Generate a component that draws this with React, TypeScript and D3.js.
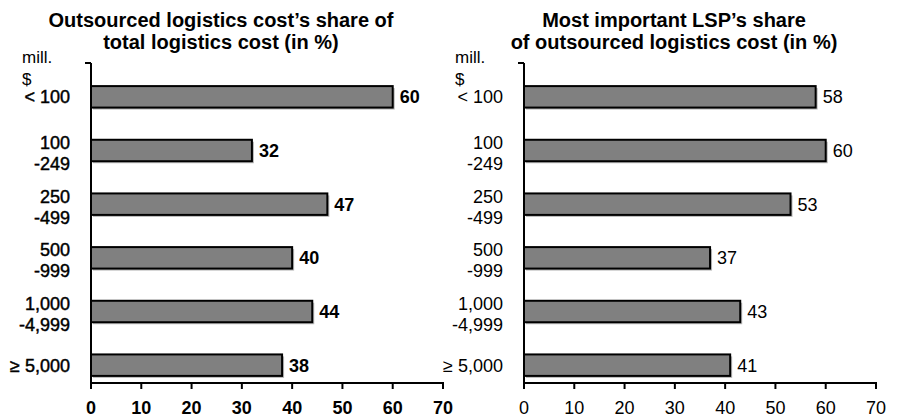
import React from "react";
import * as d3 from "d3";

// Company size classes (annual logistics cost, mill. $)
const sizeClasses = ["< 100", "100 -249", "250 -499", "500 -999", "1,000 -4,999", "≥ 5,000"];
const classLines: string[][] = [["< 100"], ["100", "-249"], ["250", "-499"], ["500", "-999"], ["1,000", "-4,999"], ["≥ 5,000"]];

// Outsourced logistics cost's share of total logistics cost (%)
const outsourcedShare = [60, 32, 47, 40, 44, 38];
// Most important LSP's share of outsourced logistics cost (%)
const lspShare = [58, 60, 53, 37, 43, 41];

const xTicks = [0, 10, 20, 30, 40, 50, 60, 70];
const unitLines = ["mill.", "$"];

const W = 897;
const H = 420;
const FONT = "'Liberation Sans', Arial, Helvetica, sans-serif";

type PanelProps = {
  titleLines: string[];
  values: number[];
  x0: number;
  x1: number;
  titleX: number;
  heavy: boolean;
};

function Panel({ titleLines, values, x0, x1, titleX, heavy }: PanelProps) {
  const x = d3.scaleLinear().domain([0, 70]).range([x0, x1]);
  const y = d3
    .scaleBand<string>()
    .domain(sizeClasses)
    .range([70, 392])
    .paddingInner(0.6)
    .paddingOuter(0.3);
  const axisTop = 63;
  const axisBottom = 383;
  const labelRight = x0 - 21;
  const unitLeft = x0 - 69;
  const numWeight = heavy ? "bold" : "normal";
  // category labels on the heavier panel use a slight outline for a semi-bold look
  const catStroke = heavy ? { stroke: "#000", strokeWidth: 0.45 } : {};

  return (
    <g fontFamily={FONT} fill="#000">
      {titleLines.map((t, i) => (
        <text key={t} x={titleX} y={27 + i * 22} textAnchor="middle" fontSize={20} fontWeight="bold">
          {t}
        </text>
      ))}
      {unitLines.map((t, i) => (
        <text key={t} x={unitLeft} y={63 + i * 22} fontSize={17}>
          {t}
        </text>
      ))}

      {/* bars with soft drop shadow */}
      {values.map((v, i) => {
        const yy = y(sizeClasses[i])!;
        const bw = y.bandwidth();
        return (
          <g key={sizeClasses[i]}>
            <rect x={x(0) + 2} y={yy + 2} width={x(v) - x(0)} height={bw} fill="#b8b8b8" />
            <rect x={x(0)} y={yy} width={x(v) - x(0)} height={bw} fill="#808080" stroke="#000" strokeWidth={2} />
            <text x={x(v) + 7} y={yy + bw / 2 + 6.5} fontSize={18} fontWeight={numWeight}>
              {v}
            </text>
          </g>
        );
      })}

      {/* category labels */}
      {classLines.map((lines, i) => {
        const c = y(sizeClasses[i])! + y.bandwidth() / 2;
        const offsets = lines.length === 1 ? [0] : [-8, 13];
        return (
          <g key={i}>
            {lines.map((l, j) => (
              <text
                key={l}
                x={labelRight}
                y={c + offsets[j] + 6.5}
                textAnchor="end"
                fontSize={18}
                {...catStroke}
              >
                {l}
              </text>
            ))}
          </g>
        );
      })}

      {/* axes */}
      <line x1={x0} x2={x0} y1={axisTop} y2={axisBottom} stroke="#000" strokeWidth={2} />
      <line x1={x0 - 6} x2={x0} y1={axisTop} y2={axisTop} stroke="#000" strokeWidth={2} />
      <line x1={x0 - 1} x2={x1 + 1} y1={axisBottom} y2={axisBottom} stroke="#000" strokeWidth={2} />
      {xTicks.map((t) => (
        <g key={t}>
          <line x1={x(t)} x2={x(t)} y1={axisBottom} y2={axisBottom + 6} stroke="#000" strokeWidth={2} />
          <text x={x(t)} y={414} textAnchor="middle" fontSize={18} fontWeight={numWeight}>
            {t}
          </text>
        </g>
      ))}
    </g>
  );
}

export default function App() {
  return (
    <svg
      width={W}
      height={H}
      viewBox={`0 0 ${W} ${H}`}
      style={{ position: "absolute", left: 0, top: 0, background: "#fff" }}
    >
      <rect width={W} height={H} fill="#fff" />
      <Panel
        titleLines={["Outsourced logistics cost’s share of", "total logistics cost (in %)"]}
        values={outsourcedShare}
        x0={91}
        x1={443}
        titleX={221}
        heavy={true}
      />
      <Panel
        titleLines={["Most important LSP’s share", "of outsourced logistics cost (in %)"]}
        values={lspShare}
        x0={524}
        x1={876}
        titleX={674}
        heavy={false}
      />
    </svg>
  );
}
